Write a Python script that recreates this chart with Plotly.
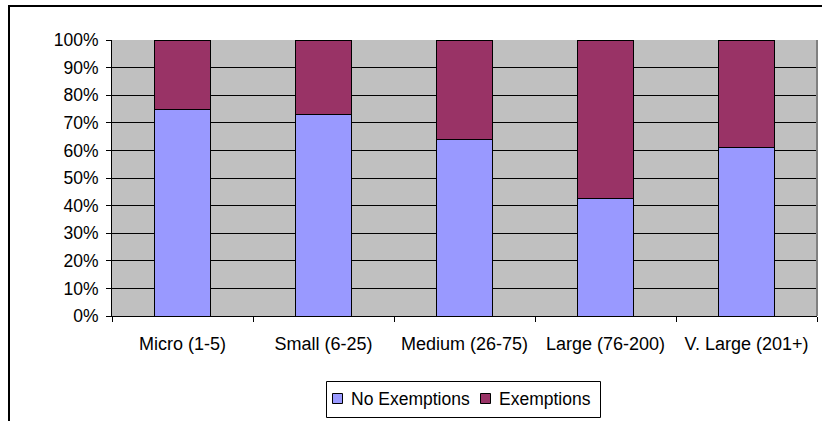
import plotly.graph_objects as go

categories = ["Micro (1-5)", "Small (6-25)", "Medium (26-75)", "Large (76-200)", "V. Large (201+)"]
no_exemptions = [0.75, 0.73, 0.64, 0.424, 0.612]
exemptions = [1 - v for v in no_exemptions]
series_names = ["No Exemptions", "Exemptions"]
series_colors = ["#9999FF", "#993366"]

W, H = 822, 421
L, R, T, B = 112, 817, 40, 316
FONT = dict(family="Liberation Sans, Arial, sans-serif", size=17.5, color="black")
XFONT = dict(family="Liberation Sans, Arial, sans-serif", size=18, color="black")

fig = go.Figure()
for name, vals, col in zip(series_names, [no_exemptions, exemptions], series_colors):
    fig.add_trace(go.Bar(x=categories, y=vals, name=name,
                         marker=dict(color=col, line=dict(color="black", width=1))))

def px_x(p):
    return (p - L) / (R - L)

def px_y(p):
    return (B - p) / (B - T)

shapes = [
    dict(type="line", xref="paper", yref="paper", x0=1, x1=1, y0=0, y1=1,
         line=dict(color="#808080", width=2)),
    dict(type="line", xref="paper", yref="paper", x0=px_x(9), x1=px_x(9), y0=px_y(6), y1=px_y(425),
         line=dict(color="black", width=2)),
    dict(type="line", xref="paper", yref="paper", x0=px_x(8), x1=px_x(830), y0=px_y(6), y1=px_y(6),
         line=dict(color="black", width=2)),
    # legend box
    dict(type="rect", xref="paper", yref="paper", x0=px_x(326.5), x1=px_x(600.5),
         y0=px_y(381.5), y1=px_y(417.5), line=dict(color="black", width=1), fillcolor="white"),
]
annotations = []
leg_sq_x = [332.5, 480.5]
leg_tx_x = [349, 497]
for name, col, sx, tx in zip(series_names, series_colors, leg_sq_x, leg_tx_x):
    shapes.append(dict(type="rect", xref="paper", yref="paper", x0=px_x(sx), x1=px_x(sx + 10),
                       y0=px_y(393.5), y1=px_y(403.5), line=dict(color="black", width=1),
                       fillcolor=col))
    annotations.append(dict(text=name, xref="paper", yref="paper", x=px_x(tx), y=px_y(399),
                            xanchor="left", yanchor="middle", showarrow=False, font=FONT))

fig.update_layout(
    width=W, height=H,
    margin=dict(l=L, r=W - R, t=T, b=H - B, pad=0),
    barmode="stack", bargap=0.6,
    plot_bgcolor="#C0C0C0", paper_bgcolor="white",
    font=FONT,
    showlegend=False,
    xaxis=dict(showline=True, linecolor="black", linewidth=1, ticks="outside", ticklen=5,
               tickcolor="black", tickson="boundaries", showgrid=False, mirror=False,
               tickfont=XFONT, ticklabelstandoff=11),
    yaxis=dict(range=[0, 1], dtick=0.1, tickformat=".0%", showline=True, linecolor="black",
               linewidth=1, ticks="outside", ticklen=5, tickcolor="black", showgrid=True,
               gridcolor="black", gridwidth=1, zeroline=False, tickfont=FONT,
               ticklabelstandoff=4),
    shapes=shapes,
    annotations=annotations,
)

fig.write_html("out.html")
